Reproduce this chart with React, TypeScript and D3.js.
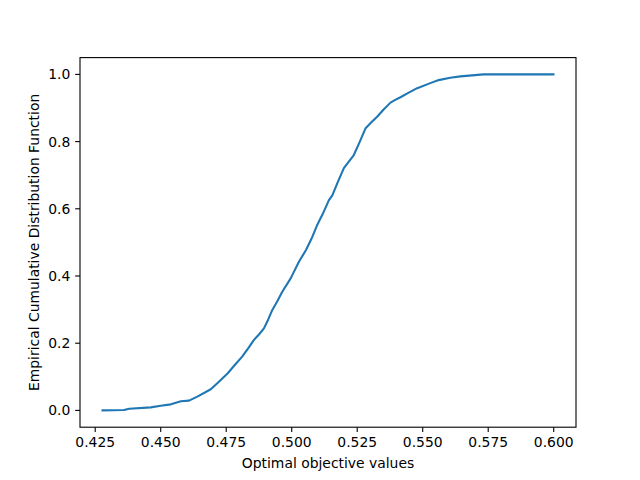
import React from 'react';
import * as d3 from 'd3';

// points
const objectiveValues = [
  0.4278, 0.436, 0.438, 0.4462, 0.45, 0.4539, 0.4577, 0.4608, 0.464, 0.4691,
  0.4716, 0.4755, 0.4786, 0.4811, 0.4835, 0.4856, 0.4875, 0.4894, 0.491, 0.4926,
  0.4945, 0.4964, 0.4996, 0.5028, 0.5055, 0.5079, 0.5095, 0.511, 0.5117, 0.5142,
  0.5155, 0.5175, 0.5199, 0.5237, 0.526, 0.5282, 0.5305, 0.5326, 0.535, 0.5377,
  0.5395, 0.5415, 0.5445, 0.5479, 0.5529, 0.5561, 0.5605, 0.5644, 0.5732, 0.5999,
];
const cdfValues = [
  0.0, 0.001, 0.005, 0.009, 0.014, 0.018, 0.027, 0.029, 0.041, 0.063,
  0.081, 0.11, 0.138, 0.16, 0.186, 0.21, 0.226, 0.244, 0.27, 0.299,
  0.325, 0.353, 0.393, 0.443, 0.478, 0.517, 0.548, 0.572, 0.582, 0.626,
  0.64, 0.678, 0.721, 0.76, 0.8, 0.84, 0.858, 0.874, 0.895, 0.916,
  0.924, 0.932, 0.945, 0.959, 0.974, 0.983, 0.99, 0.994, 1.0, 1.0,
];
const xTicks = [0.425, 0.45, 0.475, 0.5, 0.525, 0.55, 0.575, 0.6];
const yTicks = [0, 0.2, 0.4, 0.6, 0.8, 1.0];

export default function App() {
  const width = 640;
  const height = 480;
  const margin = { top: 57.6, right: 64, bottom: 52.8, left: 80 };
  const innerLeft = margin.left;
  const innerRight = width - margin.right;
  const innerTop = margin.top;
  const innerBottom = height - margin.bottom;

  const data = objectiveValues.map((x, i) => ({ x, y: cdfValues[i] }));

  const [xMin, xMax] = d3.extent(objectiveValues) as [number, number];
  const xPad = (xMax - xMin) * 0.05;
  const x = d3.scaleLinear().domain([xMin - xPad, xMax + xPad]).range([innerLeft, innerRight]);
  const y = d3.scaleLinear().domain([-0.05, 1.05]).range([innerBottom, innerTop]);

  const line = d3.line<{ x: number; y: number }>()
    .x((d) => x(d.x))
    .y((d) => y(d.y));

  const font = 'DejaVu Sans, sans-serif';
  const fontSize = 13.9;
  const tickLen = 4.86;

  return (
    <svg width={width} height={height} style={{ position: 'absolute', left: 0, top: 0 }}>
      <rect width={width} height={height} fill="white" />
      <path d={line(data) ?? ''} fill="none" stroke="#1f77b4" strokeWidth={2.1} strokeLinejoin="round" strokeLinecap="square" />
      <rect x={innerLeft} y={innerTop} width={innerRight - innerLeft} height={innerBottom - innerTop}
        fill="none" stroke="black" strokeWidth={1.1} />
      {xTicks.map((t) => (
        <g key={t} transform={`translate(${x(t)},${innerBottom})`}>
          <line y2={tickLen} stroke="black" strokeWidth={1.1} />
          <text y={tickLen + 4.86} dy="0.76em" textAnchor="middle" fontFamily={font} fontSize={fontSize}>
            {d3.format('.3f')(t)}
          </text>
        </g>
      ))}
      {yTicks.map((t) => (
        <g key={t} transform={`translate(${innerLeft},${y(t)})`}>
          <line x2={-tickLen} stroke="black" strokeWidth={1.1} />
          <text x={-tickLen - 4.86} dy="0.36em" textAnchor="end" fontFamily={font} fontSize={fontSize}>
            {d3.format('.1f')(t)}
          </text>
        </g>
      ))}
      <text x={(innerLeft + innerRight) / 2} y={468} textAnchor="middle" fontFamily={font} fontSize={fontSize}>
        Optimal objective values
      </text>
      <text transform={`translate(39,${(innerTop + innerBottom) / 2}) rotate(-90)`} textAnchor="middle"
        fontFamily={font} fontSize={fontSize}>
        Empirical Cumulative Distribution Function
      </text>
    </svg>
  );
}
